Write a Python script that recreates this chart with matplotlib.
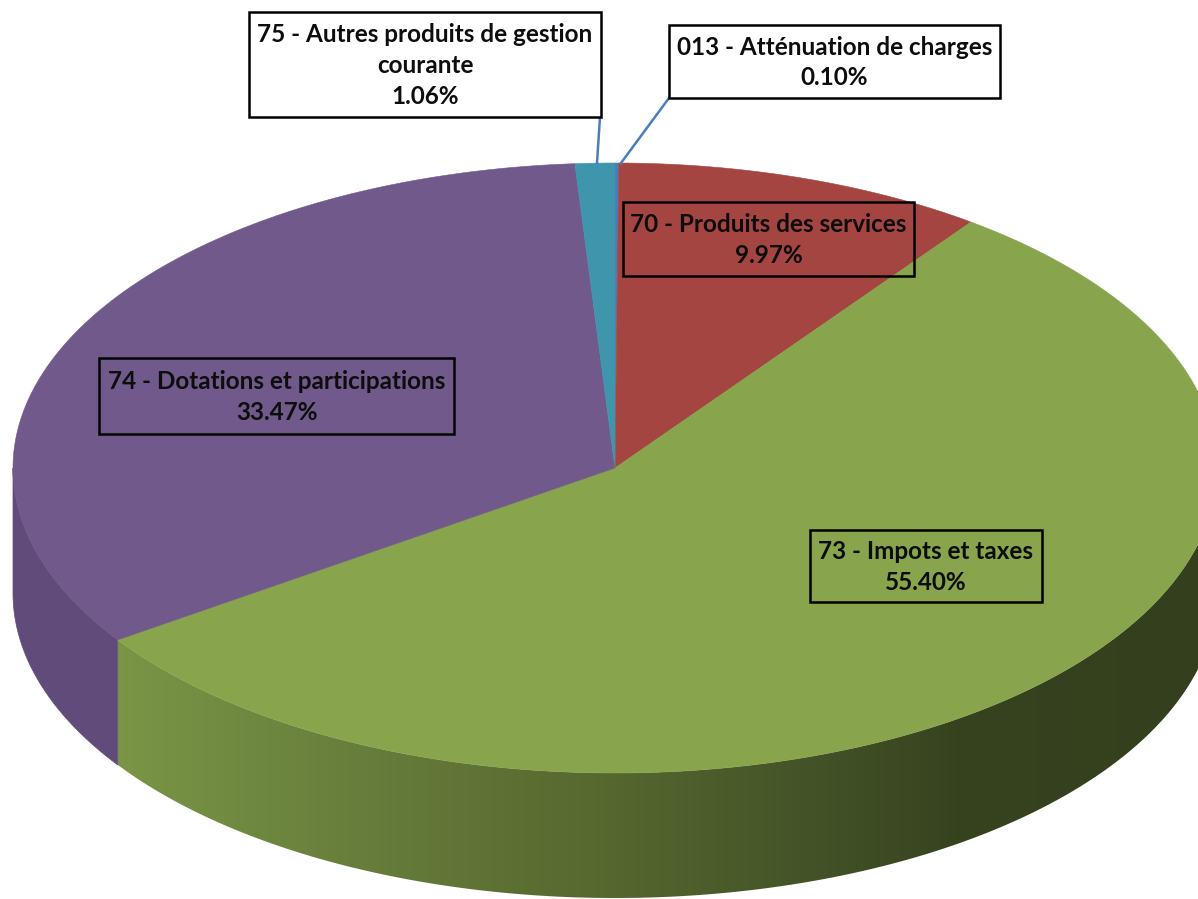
import numpy as np
import matplotlib
matplotlib.use("Agg")
import matplotlib.pyplot as plt
from matplotlib.patches import Polygon, Rectangle
from matplotlib.colors import LinearSegmentedColormap

# Budget shares (%), listed clockwise starting at 12 o'clock
codes = ["013", "70", "73", "74", "75"]
names = ["Atténuation de charges", "Produits des services", "Impots et taxes",
         "Dotations et participations", "Autres produits de gestion\ncourante"]
shares = [0.10, 9.97, 55.40, 33.47, 1.06]

top_colors = ["#4a7db8", "#a54541", "#88a44c", "#71598c", "#3f95ac"]
side_colors = ["#3b6494", "#843734", "#6d833d", "#614b7a", "#327789"]

W, H = 1198, 899
fig = plt.figure(figsize=(W / 100, H / 100), dpi=100)
ax = fig.add_axes([0, 0, 1, 1])
ax.set_xlim(0, W)
ax.set_ylim(H, 0)
ax.axis("off")

# Projected pie geometry (pixel units)
cx, cy, rx, ry, depth = 615, 468, 602, 305, 125


def rim(theta_deg):
    t = np.radians(theta_deg)
    return cx + rx * np.sin(t), cy - ry * np.cos(t)


bounds = np.concatenate([[0], np.cumsum(shares)]) * 3.6

# Side walls: only the front half (90..270 degrees) faces the viewer
green_grad = LinearSegmentedColormap.from_list(
    "side", [(0.0, "#7b9746"), (0.27, "#647a3a"), (0.45, "#56692f"),
             (0.62, "#465629"), (0.78, "#37431f"), (1.0, "#343f1d")])
for i in range(len(shares)):
    a0, a1 = max(bounds[i], 90), min(bounds[i + 1], 270)
    if a1 <= a0:
        continue
    th = np.linspace(a0, a1, 300)
    xs, ys = rim(th)
    pts = np.column_stack([np.r_[xs, xs[::-1]], np.r_[ys, ys[::-1] + depth]])
    if codes[i] == "73":
        poly = Polygon(pts, closed=True, facecolor="none", edgecolor="none")
        ax.add_patch(poly)
        grad = np.linspace(0, 1, 512).reshape(1, -1)
        im = ax.imshow(grad, cmap=green_grad, extent=[100, 1200, H, 0],
                       aspect="auto", zorder=1, interpolation="bilinear")
        im.set_clip_path(poly)
    else:
        ax.add_patch(Polygon(pts, closed=True, facecolor=side_colors[i],
                             edgecolor=side_colors[i], lw=0.5, zorder=1))

# Top faces
for i in range(len(shares)):
    th = np.linspace(bounds[i], bounds[i + 1], max(4, int(shares[i] * 8)))
    xs, ys = rim(th)
    pts = np.column_stack([np.r_[cx, xs], np.r_[cy, ys]])
    ax.add_patch(Polygon(pts, closed=True, facecolor=top_colors[i],
                         edgecolor=top_colors[i], lw=0.4, zorder=2))

font = dict(family=["Lato", "DejaVu Sans"], weight="bold", color="#0d0d0d")
fs = 17.5

# Label boxes: (x0, y0, x1, y1) in pixels, filled or transparent
boxes = {
    "013": (669, 25, 1000, 98, True),
    "70": (623, 202, 914, 276, False),
    "73": (810, 530, 1042, 602, False),
    "74": (99, 358, 454, 434, False),
    "75": (249, 12, 601, 117, True),
}

# Leader lines for the thin slices
ax.plot([669, 621], [98, 163], color="#4a7ebb", lw=1.8, zorder=3)
ax.plot([600, 597], [117, 163], color="#4a7ebb", lw=1.8, zorder=3)

for i, code in enumerate(codes):
    x0, y0, x1, y1, filled = boxes[code]
    ax.add_patch(Rectangle((x0, y0), x1 - x0, y1 - y0,
                           facecolor="white" if filled else "none",
                           edgecolor="black", lw=1.8, zorder=4))
    label = f"{code} - {names[i]}\n{shares[i]:.2f}%"
    ax.text((x0 + x1) / 2, (y0 + y1) / 2 + 1, label, ha="center", va="center",
            fontsize=fs, linespacing=1.4, zorder=5, **font)

fig.savefig("out.png", dpi=100)
